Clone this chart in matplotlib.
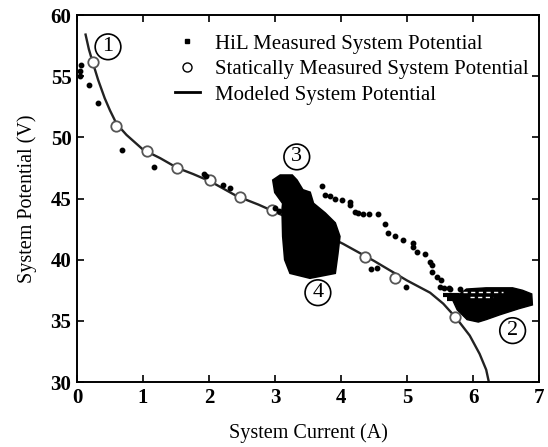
import matplotlib
matplotlib.use("Agg")
import matplotlib.pyplot as plt
from matplotlib.lines import Line2D

plt.rcParams['font.family'] = ['Liberation Serif', 'DejaVu Serif']

# Modeled system potential
model_x = [0.13, 0.18, 0.24, 0.32, 0.42, 0.5, 0.6, 0.75, 1.0, 1.26, 1.52, 1.76, 2.02,
           2.42, 2.75, 3.0, 3.5, 4.03, 4.5, 5.0, 5.35, 5.55, 5.75, 5.95, 6.1, 6.2, 6.24]
model_v = [58.4, 57.2, 56.1, 54.7, 53.2, 52.2, 51.1, 50.2, 49.0, 48.3, 47.5, 47.0, 46.4,
           45.2, 44.5, 43.9, 42.7, 41.3, 39.9, 38.3, 37.3, 36.4, 35.2, 33.8, 32.3, 31.0, 30.0]

# Statically measured system potential
static_x = [0.24, 0.59, 1.06, 1.52, 2.02, 2.47, 2.95, 4.36, 4.82, 5.73]
static_v = [56.2, 50.9, 48.9, 47.5, 46.5, 45.1, 44.1, 40.2, 38.5, 35.3]

# HiL measured system potential (individual points)
hil_x = [0.06, 0.05, 0.05, 0.18, 0.32, 0.68, 1.17, 1.92, 1.95, 2.21, 2.32,
         3.71, 3.76, 3.83, 3.91, 4.01, 4.14, 4.14, 4.21, 4.26, 4.33, 4.42, 4.56,
         4.67, 4.71, 4.82, 4.94, 5.09, 5.09, 5.15, 5.27, 5.35, 5.38, 5.38, 5.45,
         5.52, 5.50, 5.65, 5.80, 4.46, 4.54, 4.99, 3.00, 3.06, 5.56, 5.63]
hil_v = [55.9, 55.4, 55.0, 54.3, 52.8, 49.0, 47.6, 47.0, 46.8, 46.1, 45.9,
         46.0, 45.3, 45.2, 45.0, 44.9, 44.7, 44.5, 43.9, 43.8, 43.7, 43.7, 43.7,
         42.9, 42.2, 41.9, 41.6, 41.4, 41.0, 40.6, 40.5, 39.8, 39.6, 39.0, 38.6,
         38.3, 37.8, 37.6, 37.6, 39.2, 39.3, 37.8, 44.2, 44.0, 37.7, 37.7]

# Dense HiL cluster (regions 3-4), outline
blob34_x = [3.26, 3.08, 2.97, 3.00, 3.12, 3.11, 3.12, 3.15, 3.23, 3.53, 3.91, 3.95,
            3.98, 3.91, 3.76, 3.58, 3.53, 3.42, 3.33]
blob34_v = [46.9, 46.9, 46.5, 45.5, 44.6, 44.1, 41.9, 40.0, 38.9, 38.5, 38.9, 40.5,
            41.9, 43.0, 43.8, 44.6, 45.5, 45.7, 46.5]

# Dense HiL cluster (region 2), outline
blob2_x = [5.80, 5.90, 6.20, 6.60, 6.75, 6.89, 6.90, 6.70, 6.41, 6.20, 6.08, 5.91, 5.76, 5.70]
blob2_v = [37.2, 37.6, 37.7, 37.7, 37.5, 37.2, 36.3, 36.0, 35.5, 35.1, 34.9, 35.1, 35.9, 36.6]
streak_x = [[5.55, 6.30], [5.60, 6.05]]
streak_v = [[37.15, 37.15], [36.75, 36.75]]
gap_x = [[5.85, 6.45], [5.95, 6.30]]
gap_v = [[37.35, 37.35], [36.95, 36.95]]

# Region annotations
ann_labels = ['1', '2', '3', '4']
ann_x = [0.47, 6.6, 3.33, 3.65]
ann_v = [57.4, 34.2, 48.4, 37.3]

x_ticks = [0, 1, 2, 3, 4, 5, 6, 7]
y_ticks = [30, 35, 40, 45, 50, 55, 60]

fig = plt.figure(figsize=(5.48, 4.47), dpi=100)
ax = fig.add_axes([0.1405, 0.1454, 0.8431, 0.8210])

ax.fill(blob34_x, blob34_v, color='black', lw=1.5, zorder=3)
ax.fill(blob2_x, blob2_v, color='black', lw=1.0, zorder=3)
for sx, sv in zip(streak_x, streak_v):
    ax.plot(sx, sv, color='black', lw=3, ls=(0, (4, 1.0)), zorder=3)
for gx, gv in zip(gap_x, gap_v):
    ax.plot(gx, gv, color='white', lw=1.0, ls=(0, (3, 2.5)), zorder=3.5)
ax.plot(model_x, model_v, color='#222222', lw=1.7, zorder=2, clip_on=True)
ax.plot(static_x, static_v, ls='none', marker='o', ms=7.5, mfc='white',
        mec='#555555', mew=1.3, zorder=4)
ax.plot(hil_x, hil_v, ls='none', marker='o', ms=3.2, color='black', zorder=5)

for lab, x, v in zip(ann_labels, ann_x, ann_v):
    ax.text(x, v, lab, ha='center', va='center', fontsize=16, zorder=6,
            bbox=dict(boxstyle='circle,pad=0.15', fc='white', ec='black', lw=1.2))

ax.set_xlim(0, 7)
ax.set_ylim(30, 60)
ax.set_xticks(x_ticks)
ax.set_yticks(y_ticks)
ax.tick_params(direction='in', top=True, right=True, length=5, width=1.2,
               labelsize=15, pad=4)
for lbl in ax.get_xticklabels() + ax.get_yticklabels():
    lbl.set_fontweight('bold')
for s in ax.spines.values():
    s.set_linewidth(1.4)

ax.set_xlabel('System Current (A)', fontsize=14.5, labelpad=11)
ax.set_ylabel('System Potential (V)', fontsize=14.5, labelpad=10)

handles = [
    Line2D([], [], ls='none', marker='s', ms=3.2, color='black'),
    Line2D([], [], ls='none', marker='o', ms=6.5, mfc='white', mec='black', mew=1),
    Line2D([], [], color='black', lw=2),
]
labels = ['HiL Measured System Potential',
          'Statically Measured System Potential',
          'Modeled System Potential']
ax.legend(handles, labels, loc='upper left', bbox_to_anchor=(0.212, 0.948),
          frameon=False, fontsize=15, handlelength=1.2, handletextpad=0.7,
          labelspacing=0.28, borderpad=0, borderaxespad=0)

fig.savefig('out.png', dpi=100)
